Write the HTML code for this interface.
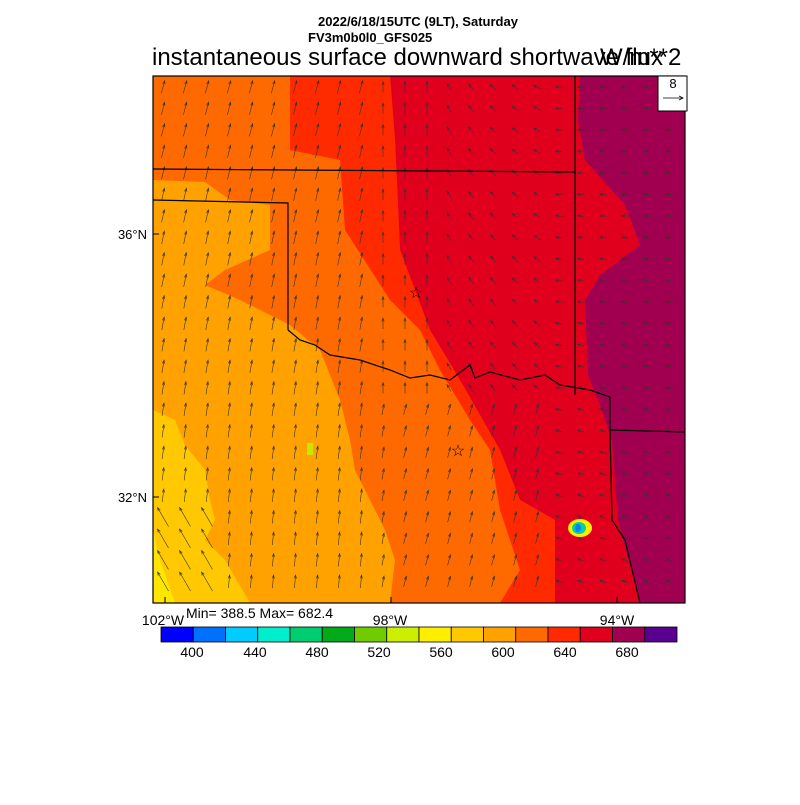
<!DOCTYPE html><html><head><style>body{margin:0;background:#fff}svg text{font-family:"Liberation Sans",sans-serif}</style></head><body>
<svg id="s" width="800" height="800" viewBox="0 0 800 800" xmlns="http://www.w3.org/2000/svg">
<rect width="800" height="800" fill="#fff"/>
<text x="418" y="26" font-size="13" font-weight="bold" text-anchor="middle">2022/6/18/15UTC (9LT), Saturday</text>
<text x="308" y="42" font-size="13" font-weight="bold">FV3m0b0l0_GFS025</text>
<text x="152" y="65" font-size="24">instantaneous surface downward shortwave flux</text>
<text x="600" y="65" font-size="24">W/m**2</text>
<defs><clipPath id="c"><rect x="153" y="76" width="532" height="527"/></clipPath></defs>
<g clip-path="url(#c)">
<rect x="153" y="76" width="532" height="527" fill="#ff6a00"/>
<polygon fill="#ffa200" points="153,180 205,182 230,200 270,205 270,250 225,270 205,285 240,300 290,325 320,350 340,400 350,440 355,470 370,500 385,530 395,560 390,603 153,603"/>
<polygon fill="#ffc800" points="153,410 175,420 185,445 205,470 210,500 215,520 205,540 225,560 250,603 153,603"/>
<polygon fill="#ffe600" points="153,530 160,560 175,603 153,603"/>
<polygon fill="#ff2a00" points="290,76 390,76 395,140 400,250 430,330 460,380 500,450 520,500 555,520 555,603 500,603 520,570 500,510 490,450 470,420 440,370 420,330 390,300 345,230 340,160 290,150"/>
<polygon fill="#e0001e" points="390,76 685,76 685,603 555,603 555,520 520,500 500,450 460,380 430,330 400,250 395,140"/>
<polygon fill="#a0004f" points="580,76 685,76 685,603 640,603 630,565 618,520 612,440 600,405 588,375 585,300 600,275 640,245 625,205 585,160 578,120"/>
<ellipse cx="580" cy="528" rx="12" ry="9" fill="#ffee00"/><ellipse cx="579" cy="528" rx="7" ry="6" fill="#00d2a0"/><ellipse cx="578" cy="528" rx="3" ry="4" fill="#0080ff"/>
<rect x="307" y="443" width="6" height="12" fill="#c8e600"/>
<g id="arr" stroke="#333" stroke-width="0.6" fill="none"></g>
<g stroke="#000" stroke-width="1.2" fill="none">
<polyline points="153,169 575,172"/>
<polyline points="153,200 288,203 288,330"/>
<polyline points="575,76 575,395"/>
<polyline points="288,330 300,340 315,345 330,355 360,360 390,370 410,378 430,375 450,380 470,365 475,378 490,372 520,380 545,375 560,385 590,390 610,397 610,430 612,520 625,540 640,603"/>
<polyline points="610,430 685,432"/>
</g>
<text x="416" y="298" font-size="16" text-anchor="middle">☆</text>
<text x="458" y="456" font-size="16" text-anchor="middle">☆</text>
</g>
<rect x="153" y="76" width="532" height="527" fill="none" stroke="#000" stroke-width="1.2"/>
<g stroke="#000" stroke-width="1"><line x1="153" y1="234" x2="159" y2="234"/><line x1="153" y1="497" x2="159" y2="497"/><line x1="165" y1="603" x2="165" y2="597"/><line x1="391" y1="603" x2="391" y2="597"/><line x1="617" y1="603" x2="617" y2="597"/></g>
<rect x="658" y="76" width="29" height="35" fill="#fff" stroke="#000"/>
<text x="673" y="88" font-size="13" text-anchor="middle">8</text>
<line x1="663" y1="98" x2="683" y2="98" stroke="#000" stroke-width="0.8"/><polyline points="679,96 683,98 679,100" fill="none" stroke="#000" stroke-width="0.8"/>
<text x="147" y="239" font-size="13" text-anchor="end">36°N</text>
<text x="147" y="502" font-size="13" text-anchor="end">32°N</text>
<text x="163" y="625" font-size="14" text-anchor="middle">102°W</text>
<text x="390" y="625" font-size="14" text-anchor="middle">98°W</text>
<text x="617" y="625" font-size="14" text-anchor="middle">94°W</text>
<text x="186" y="618" font-size="14">Min= 388.5 Max= 682.4</text>
<g id="cb" stroke="#000" stroke-width="0.8"></g>
<g font-size="14" text-anchor="middle"><text x="192" y="657">400</text><text x="255" y="657">440</text><text x="317" y="657">480</text><text x="379" y="657">520</text><text x="441" y="657">560</text><text x="503" y="657">600</text><text x="565" y="657">640</text><text x="627" y="657">680</text></g>
</svg>
<script>
var ns="http://www.w3.org/2000/svg";
var cols=["#0000ff","#0070ff","#00ccff","#00eecc","#00cc70","#00aa18","#70cc00","#ccee00","#ffee00","#ffc800","#ffa200","#ff6a00","#ff2a00","#e0001e","#a0004f","#5a0090"];
var cb=document.getElementById("cb");
for(var i=0;i<16;i++){var r=document.createElementNS(ns,"rect");r.setAttribute("x",161+i*32.25);r.setAttribute("y",627);r.setAttribute("width",32.25);r.setAttribute("height",15);r.setAttribute("fill",cols[i]);cb.appendChild(r);}
var g=document.getElementById("arr"),d="";
for(var y=87;y<603;y+=21.5)for(var x=163;x<685;x+=22){
 var fx=(x-153)/532,fy=(y-76)/527,ang,len;
 if(fx<0.12&&fy>0.8){ang=-30;len=22;}
 else if(fx<0.4){ang=15-10*fy;len=13;}
 else if(fx<0.55){ang=fy<0.6?0:10;len=11;}
 else if(fx<0.75){ang=-30-40*(fx-0.55)*5*(1-fy);len=8;}
 else {ang=-70-20*(1-fy);len=7;}
 if(fx>0.45&&fy>0.6&&fx<0.75){ang=15;len=11;}
 var a=ang*Math.PI/180,dx=Math.sin(a)*len,dy=-Math.cos(a)*len;
 var x0=x-dx/2,y0=y-dy/2,x1=x+dx/2,y1=y+dy/2;
 var ux=dx/len,uy=dy/len,h=3.5;
 d+="M"+x0.toFixed(1)+" "+y0.toFixed(1)+"L"+x1.toFixed(1)+" "+y1.toFixed(1);
 d+="M"+(x1-h*ux-h*0.35*uy).toFixed(1)+" "+(y1-h*uy+h*0.35*ux).toFixed(1)+"L"+x1.toFixed(1)+" "+y1.toFixed(1)+"L"+(x1-h*ux+h*0.35*uy).toFixed(1)+" "+(y1-h*uy-h*0.35*ux).toFixed(1);
}
var p=document.createElementNS(ns,"path");p.setAttribute("d",d);g.appendChild(p);
</script>
</body></html>
